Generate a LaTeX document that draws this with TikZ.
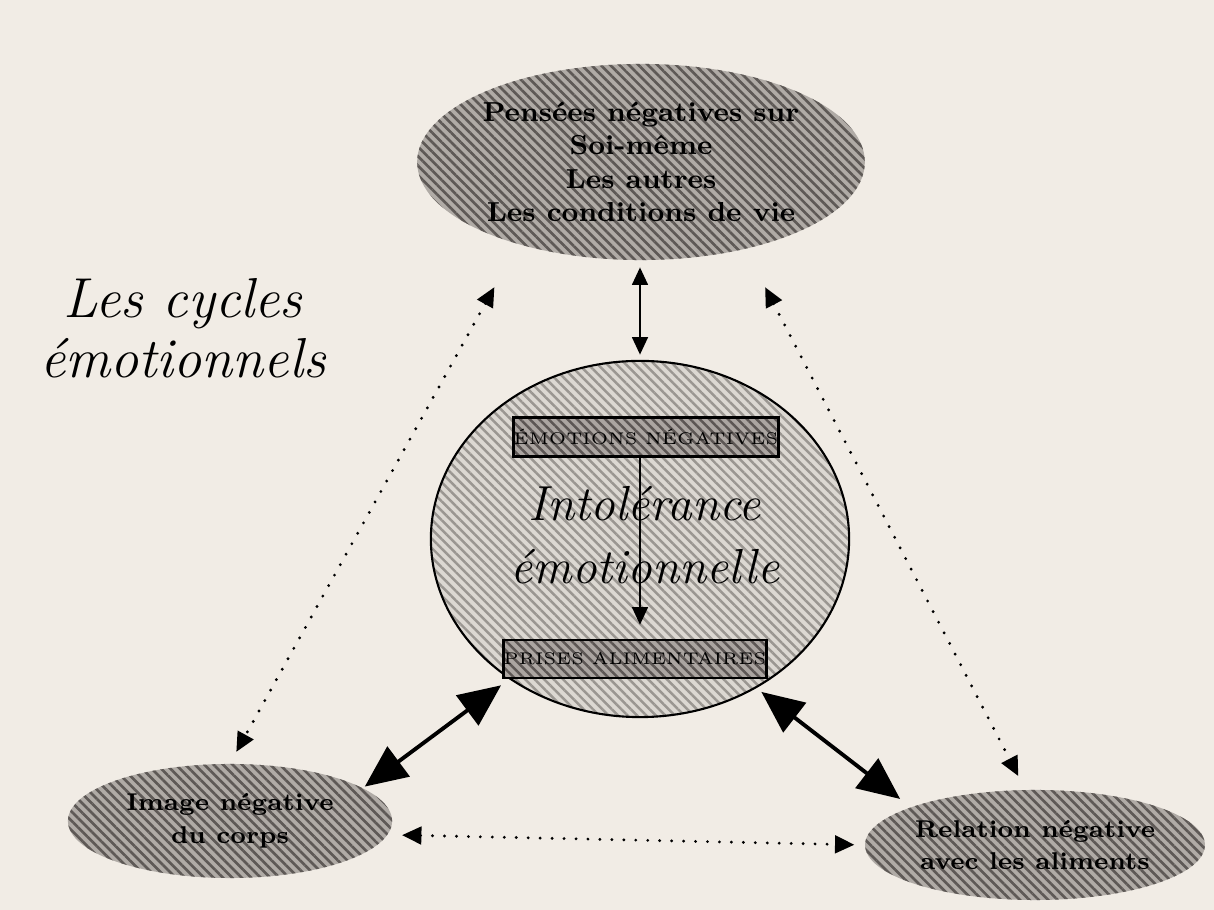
\documentclass[tikz,border=0pt]{standalone}
\usepackage{tikz}
\usetikzlibrary{shapes.geometric,patterns.meta,arrows.meta}

\definecolor{papier}{HTML}{F1ECE5}
\definecolor{fondovale}{HTML}{B0ABA6}
\definecolor{raieovale}{HTML}{5E5956}
\definecolor{fondcercle}{HTML}{DCD8D2}
\definecolor{raiecercle}{HTML}{9A9691}
\definecolor{fondboite}{HTML}{ABA5A1}
\definecolor{raieboite}{HTML}{5C5654}

\tikzset{
  ovale/.style={ellipse, inner sep=0pt,
    preaction={fill=fondovale},
    pattern={Lines[angle=-45,distance=1.9pt,line width=0.75pt]},
    pattern color=raieovale, align=center},
  grandtexte/.style={font=\fontsize{7.8}{9.5}\selectfont\bfseries},
  petittexte/.style={font=\fontsize{6.9}{9.3}\selectfont\bfseries},
  cercle/.style={ellipse, inner sep=0pt, draw=black, line width=0.6pt,
    preaction={fill=fondcercle},
    pattern={Lines[angle=-45,distance=1.9pt,line width=0.7pt]},
    pattern color=raiecercle},
  boite/.style={rectangle, draw=black, line width=0.7pt, inner sep=0pt,
    preaction={fill=fondboite},
    pattern={Lines[angle=-45,distance=1.9pt,line width=0.7pt]},
    pattern color=raieboite, font=\fontsize{4.8}{5.5}\selectfont},
  fleche/.style={{Triangle[length=5pt,width=4.5pt]}-{Triangle[length=5pt,width=4.5pt]}, line width=0.6pt},
  grosse/.style={{Triangle[length=12pt,width=10.5pt]}-{Triangle[length=12pt,width=10.5pt]}, line width=1.1pt},
  pointille/.style={{Triangle[length=5.5pt,width=5pt]}-{Triangle[length=5.5pt,width=5pt]},
    line width=0.9pt, line cap=round, dash pattern=on 0pt off 3.4pt}
}

\begin{document}
\begin{tikzpicture}[x=0.01cm,y=-0.01cm]
                        \fill[papier] (0,0) rectangle (1214,910);
                        \useasboundingbox (0,0) rectangle (1214,910);

                        % les ovales
                        \node[ovale, grandtexte, minimum width=4.44cm, minimum height=1.96cm] (pensees) at (641,162)
                          {Pensées négatives sur\\Soi-même\\Les autres\\Les conditions de vie};
                        \node[ovale, petittexte, minimum width=3.24cm, minimum height=1.14cm] (image) at (230,821)
                          {Image négative\\du corps};
                        \node[ovale, petittexte, minimum width=3.30cm, minimum height=1.10cm] (relation) at (1035,845)
                          {Relation négative\\avec les aliments};

                        % le cercle central
                        \node[cercle, minimum width=4.18cm, minimum height=3.56cm] (intol) at (640,539) {};
                        \node[boite, minimum width=2.57cm, minimum height=0.39cm] (emo) at (646,437) {ÉMOTIONS NÉGATIVES};
                        \node[boite, minimum width=2.54cm, minimum height=0.38cm] (prises) at (635,659) {PRISES ALIMENTAIRES};
                        \draw[-{Triangle[length=5pt,width=4.5pt]}, line width=0.5pt, shorten >=0.14cm]
                          (emo.south -| intol.center) -- (prises.north -| intol.center);
                        \node[font=\fontsize{14}{18}\selectfont\itshape, align=center] (texte) at (645,535)
                          {Intolérance\\émotionnelle};

                        % le titre
                        \node[font=\fontsize{16}{17}\selectfont\itshape, align=center] (titre) at (183,328)
                          {Les cycles\\émotionnels};

                        % les fleches
                        \draw[fleche, shorten <=0.06cm, shorten >=0.05cm] (pensees.south -| intol.center) -- (intol.north);
                        \draw[grosse, shorten <=0.02cm, shorten >=0.1cm] (image.14) -- (intol.227);
                        \draw[grosse, shorten <=0.06cm, shorten >=0.13cm] (intol.308) -- (relation.163);
                        \draw[pointille, shorten <=0.48cm, shorten >=0.13cm] (pensees.214) -- (image.north);
                        \draw[pointille, shorten <=0.42cm, shorten >=0.15cm] (pensees.320) -- (relation.100);
                        \draw[pointille, shorten <=0.14cm, shorten >=0.1cm] (image.-5) -- (relation.180);
                    \end{tikzpicture}
\end{document}
